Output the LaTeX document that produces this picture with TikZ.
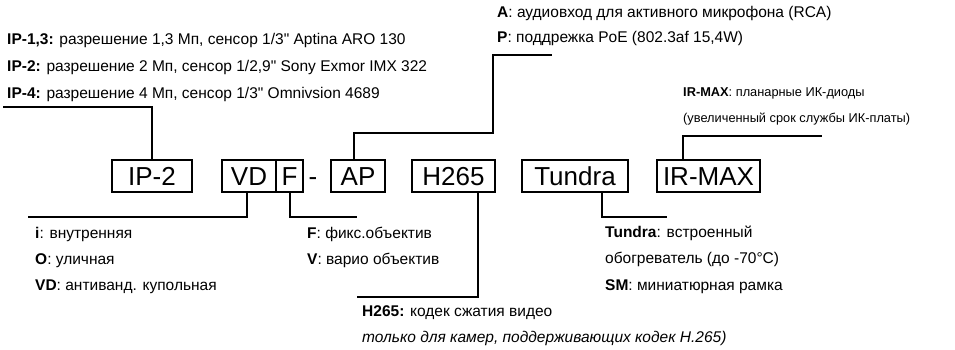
\documentclass[tikz,border=0pt]{standalone}
\usepackage{fontspec}
\setmainfont{Liberation Sans}[Ligatures=TeXOff]
\usepackage{tikz}
\tikzset{
  part/.style={draw, line width=2.4pt, inner sep=0pt, minimum height=32pt,
    text height=19pt, text depth=0pt, font=\fontsize{26}{26}\selectfont},
  lead/.style={line width=2pt},
  note/.style={anchor=base west, inner sep=0pt, font=\fontsize{15.5}{18}\selectfont},
  smallnote/.style={note, font=\fontsize{12.8}{15}\selectfont}
}

\begin{document}
\begin{tikzpicture}[x=1pt, y=-1pt]
      \useasboundingbox (0,0) rectangle (955,350);

      % code parts
      \node[part, minimum width=80pt] (ip) at (152,176) {IP-2};
      \node[part, minimum width=54pt] (vd) at (249,176) {VD};
      \node[part, minimum width=27pt] (f) at (289.5,176) {F};
      \node[part, draw=none] (dash) at (313,176) {-};
      \node[part, minimum width=54pt] (ap) at (358,176) {AP};
      \node[part, minimum width=83pt] (h) at (453.5,176) {H265};
      \node[part, minimum width=106pt] (tu) at (575,176) {Tundra};
      \node[part, minimum width=103pt] (ir) at (708.5,176) {IR-MAX};

      % notes
      \node[note] (ip1) at (7,45) {\textbf{IP-1,3:} разрешение 1,3 Мп, сенсор 1/3" Aptina ARO 130};
      \node[note] (ip2) at (7,72) {\textbf{IP-2:} разрешение 2 Мп, сенсор 1/2,9" Sony Exmor IMX 322};
      \node[note] (ip4) at (7,99) {\textbf{IP-4:} разрешение 4 Мп, сенсор 1/3" Omnivsion 4689};

      \node[note] (a) at (497,18) {\textbf{A}: аудиовход для активного микрофона (RCA)};
      \node[note] (p) at (497,43) {\textbf{P}: поддрежка PoE (802.3af 15,4W)};

      \node[smallnote] (irm) at (683,97) {\textbf{IR-MAX}: планарные ИК-диоды};
      \node[smallnote] (irl) at (683,122) {(увеличенный срок службы ИК-платы)};

      \node[note] (i) at (35,238) {\textbf{i}: внутренняя};
      \node[note] (o) at (35,264) {\textbf{O}: уличная};
      \node[note] (vdn) at (35,290) {\textbf{VD}: антиванд. купольная};

      \node[note] (fn) at (307,238) {\textbf{F}: фикс.объектив};
      \node[note] (v) at (307,264) {\textbf{V}: варио объектив};

      \node[note] (hn) at (362,316) {\textbf{H265:} кодек сжатия видео};
      \node[note] (hl) at (362,342) {\itshape только для камер, поддерживающих кодек H.265)};

      \node[note] (tun) at (605,237) {\textbf{Tundra}: встроенный};
      \node[note] (tul) at (605,263) {обогреватель (до -70°C)};
      \node[note] (sm) at (605,290) {\textbf{SM}: миниатюрная рамка};

      % leaders
      \coordinate (ipE) at (3,107);
      \coordinate (apK) at (354,133);
      \coordinate (apM) at (493,55);
      \coordinate (apE) at (552,55);
      \coordinate (irK) at (683,136);
      \coordinate (irE) at (822,136);
      \coordinate (vdK) at (247,217);
      \coordinate (vdE) at (28,217);
      \coordinate (fE) at (357,217);
      \coordinate (hK) at (478,297);
      \coordinate (hE) at (357,297);
      \coordinate (tuK) at (602,217);
      \coordinate (tuE) at (667,217);

      \draw[lead] (ip.north) |- (ipE);
      \draw[lead] (ap.north -| apK) -- (apK) -| (apM) -- (apE);
      \draw[lead] (ir.north -| irK) -- (irK) -- (irE);
      \draw[lead] (vd.south -| vdK) -- (vdK) -- (vdE);
      \draw[lead] (f.south) |- (fE);
      \draw[lead] (h.south -| hK) -- (hK) -- (hE);
      \draw[lead] (tu.south -| tuK) -- (tuK) -- (tuE);
    \end{tikzpicture}
\end{document}
